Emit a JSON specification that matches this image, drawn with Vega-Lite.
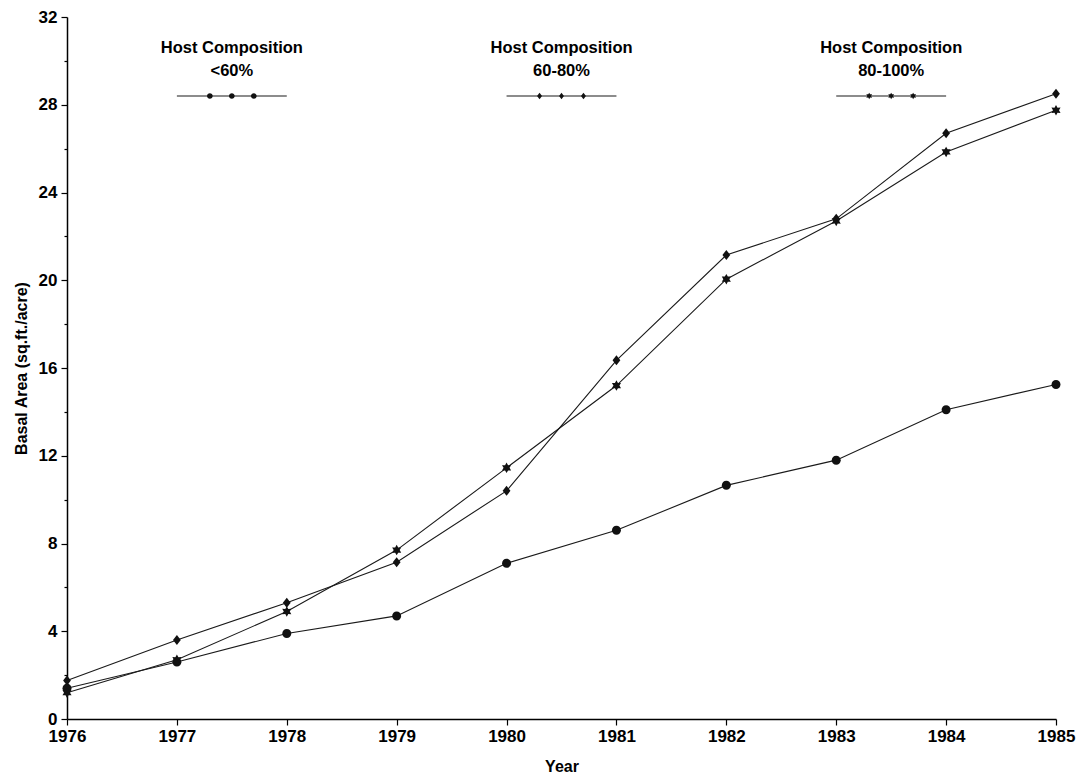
{
  "$schema": "https://vega.github.io/schema/vega-lite/v6.json",
  "width": 989,
  "height": 702,
  "autosize": "none",
  "padding": {"left": 67, "top": 17, "right": 24, "bottom": 64},
  "background": "white",
  "config": {
    "view": {"stroke": null},
    "font": "Liberation Sans"
  },
  "datasets": {
    "series": [
      {"group": "<60%", "year": 1976, "area": 1.4},
      {"group": "<60%", "year": 1977, "area": 2.6},
      {"group": "<60%", "year": 1978, "area": 3.9},
      {"group": "<60%", "year": 1979, "area": 4.7},
      {"group": "<60%", "year": 1980, "area": 7.1},
      {"group": "<60%", "year": 1981, "area": 8.6},
      {"group": "<60%", "year": 1982, "area": 10.65},
      {"group": "<60%", "year": 1983, "area": 11.8},
      {"group": "<60%", "year": 1984, "area": 14.1},
      {"group": "<60%", "year": 1985, "area": 15.25},
      {"group": "60-80%", "year": 1976, "area": 1.75},
      {"group": "60-80%", "year": 1977, "area": 3.6},
      {"group": "60-80%", "year": 1978, "area": 5.3},
      {"group": "60-80%", "year": 1979, "area": 7.15},
      {"group": "60-80%", "year": 1980, "area": 10.4},
      {"group": "60-80%", "year": 1981, "area": 16.35},
      {"group": "60-80%", "year": 1982, "area": 21.15},
      {"group": "60-80%", "year": 1983, "area": 22.8},
      {"group": "60-80%", "year": 1984, "area": 26.7},
      {"group": "60-80%", "year": 1985, "area": 28.5},
      {"group": "80-100%", "year": 1976, "area": 1.2},
      {"group": "80-100%", "year": 1977, "area": 2.7},
      {"group": "80-100%", "year": 1978, "area": 4.9},
      {"group": "80-100%", "year": 1979, "area": 7.7},
      {"group": "80-100%", "year": 1980, "area": 11.45},
      {"group": "80-100%", "year": 1981, "area": 15.2},
      {"group": "80-100%", "year": 1982, "area": 20.05},
      {"group": "80-100%", "year": 1983, "area": 22.7},
      {"group": "80-100%", "year": 1984, "area": 25.85},
      {"group": "80-100%", "year": 1985, "area": 27.75}
    ],
    "keyLines": [
      {"group": "<60%", "start": 1977, "end": 1978, "level": 28.4},
      {"group": "60-80%", "start": 1980, "end": 1981, "level": 28.4},
      {"group": "80-100%", "start": 1983, "end": 1984, "level": 28.4}
    ],
    "keyMarks": [
      {"group": "<60%", "year": 1977.3, "level": 28.4},
      {"group": "<60%", "year": 1977.5, "level": 28.4},
      {"group": "<60%", "year": 1977.7, "level": 28.4},
      {"group": "60-80%", "year": 1980.3, "level": 28.4},
      {"group": "60-80%", "year": 1980.5, "level": 28.4},
      {"group": "60-80%", "year": 1980.7, "level": 28.4},
      {"group": "80-100%", "year": 1983.3, "level": 28.4},
      {"group": "80-100%", "year": 1983.5, "level": 28.4},
      {"group": "80-100%", "year": 1983.7, "level": 28.4}
    ],
    "keyText": [
      {"label": "Host Composition\n<60%", "year": 1977.5, "level": 30.6},
      {"label": "Host Composition\n60-80%", "year": 1980.5, "level": 30.6},
      {"label": "Host Composition\n80-100%", "year": 1983.5, "level": 30.6}
    ]
  },
  "layer": [
    {
      "data": {"name": "series"},
      "mark": {"type": "line", "color": "#1a1a1a", "strokeWidth": 1.1},
      "encoding": {
        "x": {
          "field": "year",
          "type": "quantitative",
          "scale": {"domain": [1976, 1985], "nice": false, "zero": false},
          "axis": {
            "title": "Year",
            "values": [1976, 1977, 1978, 1979, 1980, 1981, 1982, 1983, 1984, 1985],
            "format": "d",
            "grid": false,
            "labelFlush": false,
            "labelFontSize": 17,
            "labelFontWeight": "bold",
            "labelColor": "#000",
            "labelPadding": 3,
            "titleFontSize": 16,
            "titleFontWeight": "bold",
            "titleColor": "#000",
            "titlePadding": 14,
            "domainColor": "#000",
            "domainWidth": 1.5,
            "tickColor": "#000",
            "tickWidth": 1.2,
            "tickSize": 6
          }
        },
        "y": {
          "field": "area",
          "type": "quantitative",
          "scale": {"domain": [0, 32], "nice": false},
          "axis": {
            "title": "Basal Area (sq.ft./acre)",
            "values": [0, 2, 4, 6, 8, 10, 12, 14, 16, 18, 20, 22, 24, 26, 28, 30, 32],
            "labelExpr": "datum.value % 4 === 0 ? datum.label : ''",
            "grid": false,
            "labelFlush": false,
            "labelFontSize": 17,
            "labelFontWeight": "bold",
            "labelColor": "#000",
            "labelPadding": 4,
            "titleFontSize": 16,
            "titleFontWeight": "bold",
            "titleColor": "#000",
            "titlePadding": 9,
            "domainColor": "#000",
            "domainWidth": 1.5,
            "tickColor": "#000",
            "tickWidth": 1.2,
            "tickSize": {"condition": {"test": "datum.value % 4 === 0", "value": 6}, "value": 3}
          }
        },
        "detail": {"field": "group"}
      }
    },
    {
      "data": {"name": "series"},
      "mark": {"type": "point", "filled": true, "color": "#111", "opacity": 1, "size": 100},
      "encoding": {
        "x": {"field": "year", "type": "quantitative"},
        "y": {"field": "area", "type": "quantitative"},
        "shape": {
          "field": "group",
          "type": "nominal",
          "scale": {
            "domain": ["<60%", "60-80%", "80-100%"],
            "range": [
              "M-0.9,0A0.9,0.9 0 1,0 0.9,0A0.9,0.9 0 1,0 -0.9,0Z",
              "M0,-1L0.78,0L0,1L-0.78,0Z",
              "M0,-1.05L0.3,-0.52L0.91,-0.53L0.6,0L0.91,0.53L0.3,0.52L0,1.05L-0.3,0.52L-0.91,0.53L-0.6,0L-0.91,-0.53L-0.3,-0.52Z"
            ]
          },
          "legend": null
        }
      }
    },
    {
      "data": {"name": "keyLines"},
      "mark": {"type": "rule", "color": "#1a1a1a", "strokeWidth": 1.1},
      "encoding": {
        "x": {"field": "start", "type": "quantitative"},
        "x2": {"field": "end"},
        "y": {"field": "level", "type": "quantitative"}
      }
    },
    {
      "data": {"name": "keyMarks"},
      "mark": {"type": "point", "filled": true, "color": "#111", "opacity": 1, "size": 40},
      "encoding": {
        "x": {"field": "year", "type": "quantitative"},
        "y": {"field": "level", "type": "quantitative"},
        "shape": {"field": "group", "type": "nominal", "legend": null}
      }
    },
    {
      "data": {"name": "keyText"},
      "mark": {
        "type": "text",
        "lineBreak": "\n",
        "lineHeight": 23,
        "align": "center",
        "baseline": "middle",
        "fontSize": 16.5,
        "fontWeight": "bold",
        "color": "#000"
      },
      "encoding": {
        "x": {"field": "year", "type": "quantitative"},
        "y": {"field": "level", "type": "quantitative"},
        "text": {"field": "label"}
      }
    }
  ]
}
